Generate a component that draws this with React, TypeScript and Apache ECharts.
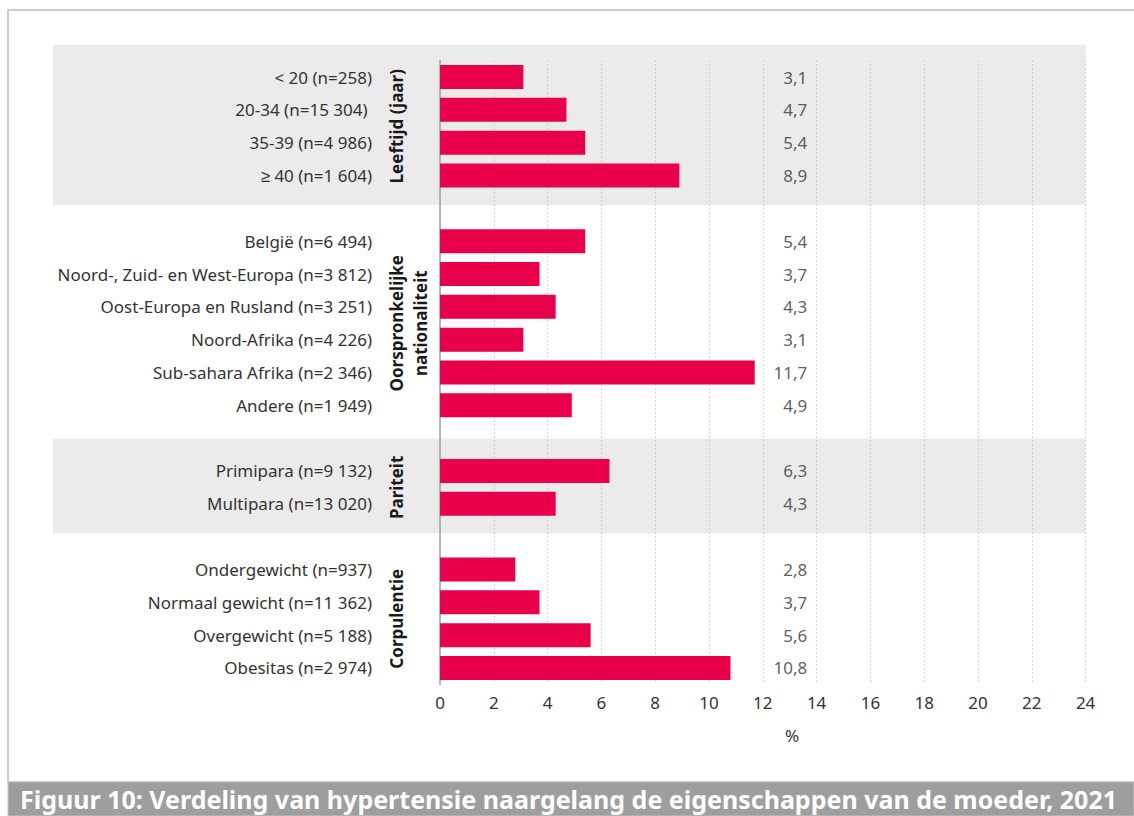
import React, { useEffect, useRef } from "react";
import * as echarts from "echarts";

const ageLabels = ["< 20 (n=258)", "20-34 (n=15 304) ", "35-39 (n=4 986)", "≥ 40 (n=1 604)"];
const ageValues = [3.1, 4.7, 5.4, 8.9];
const natLabels = [
  "België (n=6 494)",
  "Noord-, Zuid- en West-Europa (n=3 812)",
  "Oost-Europa en Rusland (n=3 251)",
  "Noord-Afrika (n=4 226)",
  "Sub-sahara Afrika (n=2 346)",
  "Andere (n=1 949)",
];
const natValues = [5.4, 3.7, 4.3, 3.1, 11.7, 4.9];
const parLabels = ["Primipara (n=9 132)", "Multipara (n=13 020)"];
const parValues = [6.3, 4.3];
const corpLabels = [
  "Ondergewicht (n=937)",
  "Normaal gewicht (n=11 362)",
  "Overgewicht (n=5 188)",
  "Obesitas (n=2 974)",
];
const corpValues = [2.8, 3.7, 5.6, 10.8];
const groupTitles = ["Leeftijd (jaar)", "Oorspronkelijke\nnationaliteit", "Pariteit", "Corpulentie"];
const shadedGroups = [true, false, true, false];
const xMin = 0;
const xMax = 24;
const xStep = 2;
const axisUnit = "%";
const title = "Figuur 10: Verdeling van hypertensie naargelang de eigenschappen van de moeder, 2021";

const FONT = "'Noto Sans', sans-serif";
const TEXT = "#333333";
const BAR = "#E8004B";

export default function App() {
  const ref = useRef<HTMLDivElement>(null);
  useEffect(() => {
    if (!ref.current) return;
    const chart = echarts.init(ref.current, null, { renderer: "svg" });

    const groups = [
      { labels: ageLabels, values: ageValues },
      { labels: natLabels, values: natValues },
      { labels: parLabels, values: parValues },
      { labels: corpLabels, values: corpValues },
    ];
    const categories: string[] = [];
    const barData: (number | string)[] = [];
    const ranges: [number, number][] = [];
    groups.forEach((g, gi) => {
      if (gi > 0) {
        categories.push("__gap" + gi);
        barData.push("-");
      }
      const start = categories.length;
      g.labels.forEach((l, i) => {
        categories.push(l);
        barData.push(g.values[i]);
      });
      ranges.push([start, categories.length - 1]);
    });
    const labelX = 13.67;
    const labelData: any[] = [];
    barData.forEach((v, i) => {
      if (typeof v === "number") labelData.push([labelX, i, v]);
    });
    const fmt = (v: number) => v.toFixed(1).replace(".", ",");

    chart.setOption({
      animation: false,
      grid: {
        left: 440,
        right: 48.4,
        top: 60.6,
        bottom: 131.6,
        containLabel: false,
        outerBoundsMode: "none",
      },
      xAxis: {
        type: "value",
        min: xMin,
        max: xMax,
        interval: xStep,
        axisLine: { show: false },
        axisTick: { show: false },
        axisLabel: { fontSize: 17, color: TEXT, fontFamily: FONT, margin: 10 },
        splitLine: { show: true, lineStyle: { color: "#b4b4b4", type: [1, 3], width: 1 } },
      },
      yAxis: {
        type: "category",
        inverse: true,
        data: categories,
        axisLine: { show: true, lineStyle: { color: "#a0a0a0", width: 1.5 } },
        axisTick: { show: false },
        splitLine: { show: false },
        axisLabel: {
          fontSize: 17,
          color: TEXT,
          fontFamily: FONT,
          margin: 68,
          interval: 0,
          formatter: (v: string) => (v.startsWith("__gap") ? "" : v),
        },
      },
      series: [
        {
          type: "bar",
          data: barData,
          barWidth: 24,
          itemStyle: { color: BAR },
          z: 3,
        },
        {
          type: "scatter",
          data: labelData,
          symbolSize: 1,
          itemStyle: { color: "transparent" },
          silent: true,
          label: {
            show: true,
            position: "left",
            distance: 0,
            fontSize: 17,
            fontFamily: FONT,
            color: TEXT,
            formatter: (p: any) => fmt(p.value[2]),
          },
        },
      ],
    });

    const cy = (i: number) => chart.convertToPixel({ yAxisIndex: 0 }, i) as number;
    const pitch = cy(1) - cy(0);
    const elements: any[] = [];
    ranges.forEach(([a, b], gi) => {
      const top = cy(a) - pitch / 2;
      const bottom = cy(b) + pitch / 2;
      if (shadedGroups[gi]) {
        elements.push({
          type: "rect",
          z: -10,
          silent: true,
          shape: { x: 53, y: top - 16, width: 1085.6 - 53, height: bottom - top + 16 + 13 },
          style: { fill: "#ebebeb" },
        });
      }
      const twoLines = groupTitles[gi].includes("\n");
      elements.push({
        type: "text",
        x: twoLines ? 408 : 396,
        y: (top + bottom) / 2,
        rotation: Math.PI / 2,
        style: {
          text: groupTitles[gi],
          fontSize: 17,
          fontWeight: "bold",
          fontFamily: FONT,
          fill: "#1a1a1a",
          align: "center",
          verticalAlign: "middle",
          lineHeight: 24,
        },
      });
    });
    elements.push({
      type: "text",
      x: 792,
      y: 735.5,
      style: { text: axisUnit, fontSize: 17, fontFamily: FONT, fill: TEXT, align: "center", verticalAlign: "middle" },
    });
    elements.push({
      type: "rect",
      z: 5,
      silent: true,
      shape: { x: 8, y: 10, width: 1140, height: 772 },
      style: { fill: "none", stroke: "#bdbdbd", lineWidth: 1.5 },
    });
    elements.push({
      type: "rect",
      z: 5,
      silent: true,
      shape: { x: 8, y: 782, width: 1126, height: 34 },
      style: { fill: "#9e9e9e", stroke: "#c4c4c4", lineWidth: 1 },
    });
    elements.push({
      type: "text",
      z: 6,
      x: 20,
      y: 798.5,
      style: {
        text: title,
        fontSize: 25,
        fontWeight: "bold",
        fontFamily: FONT,
        fill: "#ffffff",
        align: "left",
        verticalAlign: "middle",
      },
    });
    chart.setOption({ graphic: { elements } });

    return () => chart.dispose();
  }, []);
  return (
    <div
      ref={ref}
      style={{ position: "fixed", left: 0, top: 0, width: 1134, height: 816, background: "#ffffff" }}
    />
  );
}
